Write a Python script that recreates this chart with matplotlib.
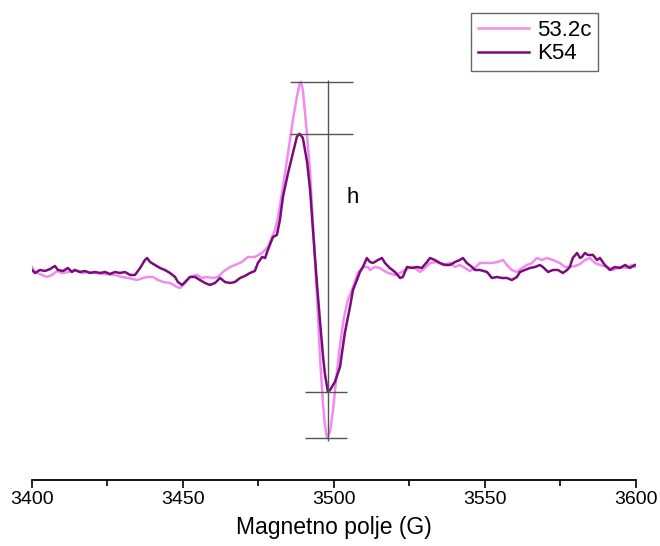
import matplotlib
matplotlib.use('Agg')
import matplotlib.pyplot as plt
from matplotlib.ticker import MultipleLocator

plt.rcParams['font.family'] = ['Liberation Sans', 'DejaVu Sans']

# Magnetno polje (G) i intenzitet signala (proizvoljne jedinice)
field_53 = [3400.0, 3401.0, 3403.3, 3405.0, 3406.6, 3408.3, 3409.9, 3411.9, 3414.2, 3416.6,
            3418.5, 3420.9, 3424.2, 3427.5, 3429.8, 3431.8, 3433.4, 3434.8, 3436.8, 3438.4,
            3440.1, 3441.7, 3443.4, 3445.7, 3448.0, 3449.0, 3450.7, 3452.3, 3454.6, 3456.3,
            3457.9, 3459.9, 3461.6, 3463.2, 3465.6, 3467.2, 3469.5, 3471.5, 3473.8, 3476.2,
            3478.1, 3480.5, 3481.5, 3483.1, 3484.8, 3486.4, 3487.7, 3488.7, 3489.1, 3489.7,
            3490.7, 3492.1, 3493.0, 3494.4, 3495.4, 3496.4, 3497.0, 3497.7, 3498.7, 3499.7,
            3500.7, 3502.0, 3503.3, 3504.6, 3506.3, 3507.9, 3509.6, 3511.3, 3511.9, 3513.6,
            3515.2, 3516.2, 3517.9, 3520.2, 3521.9, 3523.5, 3525.2, 3526.8, 3528.5, 3530.1,
            3531.8, 3534.1, 3536.1, 3538.4, 3540.1, 3541.7, 3543.4, 3545.0, 3546.7, 3548.3,
            3550.0, 3552.3, 3554.3, 3556.0, 3557.3, 3558.9, 3560.6, 3562.3, 3563.9, 3565.6,
            3567.2, 3568.9, 3570.5, 3572.5, 3574.8, 3576.5, 3578.1, 3579.8, 3581.5, 3583.1,
            3584.8, 3586.4, 3588.1, 3590.4, 3592.4, 3594.7, 3597.0, 3598.7, 3599.7]
signal_53 = [3, -2, -5, -7, -5, -1, -3, -2, 0, -3,
             -2, -3, -4, -5, -7, -8, -9, -10, -8, -7,
             -7, -10, -12, -13, -17, -18, -13, -7, -5, -8,
             -7, -8, -7, -2, 3, 5, 8, 13, 13, 17,
             23, 40, 53, 83, 117, 150, 173, 187, 188, 180,
             148, 98, 48, -28, -88, -135, -155, -168, -162, -140,
             -110, -75, -48, -30, -17, -3, 3, 3, 0, 3,
             2, 0, -3, -5, -3, 0, 3, 2, -2, 2,
             7, 8, 5, 7, 3, 5, 2, -1, 2, 7,
             7, 7, 8, 10, 5, 0, -2, 2, 5, 7,
             12, 10, 12, 10, 7, 3, 3, 4, 6, 10,
             12, 7, 5, 3, 0, 3, 2, 5, 3]

field_k54 = [3400.0, 3401.0, 3402.6, 3404.3, 3406.0, 3407.6, 3408.6, 3410.3, 3411.9, 3413.2,
             3414.2, 3415.9, 3417.5, 3419.2, 3420.9, 3422.5, 3424.2, 3425.8, 3427.5, 3429.1,
             3430.8, 3432.5, 3434.1, 3435.8, 3437.4, 3438.1, 3439.1, 3440.7, 3442.4, 3444.0,
             3445.7, 3447.4, 3448.3, 3449.7, 3450.7, 3452.3, 3454.0, 3455.6, 3457.3, 3458.9,
             3460.6, 3462.3, 3463.9, 3465.6, 3467.2, 3468.9, 3470.5, 3472.2, 3473.8, 3474.8,
             3476.2, 3477.2, 3478.1, 3479.8, 3481.1, 3482.1, 3483.1, 3484.8, 3486.4, 3487.7,
             3488.4, 3488.7, 3489.7, 3491.1, 3492.1, 3493.0, 3494.4, 3495.4, 3496.4, 3497.0,
             3498.0, 3498.7, 3499.3, 3500.3, 3502.0, 3503.6, 3505.3, 3506.3, 3507.6, 3508.6,
             3509.6, 3510.9, 3511.9, 3512.9, 3514.6, 3515.9, 3516.9, 3518.5, 3520.2, 3521.9,
             3522.8, 3524.2, 3525.8, 3527.5, 3529.1, 3530.8, 3531.8, 3533.4, 3535.1, 3536.8,
             3538.4, 3540.1, 3541.7, 3542.7, 3544.0, 3545.7, 3546.7, 3548.3, 3550.7, 3552.3,
             3554.0, 3555.6, 3557.3, 3558.9, 3560.6, 3561.6, 3563.2, 3564.9, 3566.6, 3568.2,
             3569.2, 3570.9, 3572.5, 3574.2, 3575.8, 3577.2, 3578.1, 3579.1, 3580.5, 3581.5,
             3582.1, 3583.1, 3584.1, 3585.8, 3587.1, 3588.1, 3589.7, 3591.4, 3593.0, 3594.7,
             3596.4, 3598.0, 3599.7]
signal_k54 = [0, -3, 0, -1, 1, 4, 0, -1, 2, -2,
              0, -2, -1, -3, -2, -3, -2, -4, -2, -3,
              -2, -5, -5, 2, 10, 12, 8, 5, 2, 0,
              -3, -7, -12, -15, -12, -7, -7, -10, -13, -15,
              -13, -8, -12, -13, -12, -8, -6, -3, -1, 7,
              13, 12, 20, 33, 35, 50, 73, 97, 117, 133,
              136, 136, 132, 108, 80, 42, -15, -52, -87, -104,
              -122, -120, -117, -112, -97, -63, -37, -20, -10, -2,
              3, 12, 8, 7, 10, 12, 7, 2, -2, -8,
              -7, 3, 2, 3, 2, 8, 12, 10, 7, 5,
              5, 8, 10, 12, 7, 3, 0, 0, -2, -8,
              -7, -8, -8, -10, -7, -2, 0, 2, 3, 5,
              3, -2, 0, 0, -3, 0, 3, 12, 17, 12,
              13, 17, 15, 15, 10, 12, 5, 0, 3, 2,
              5, 2, 5]

series_names = ['53.2c', 'K54']
series_colors = ['#F28AF2', '#7A0C7A']

fig = plt.figure(figsize=(6.6, 5.46), dpi=100)
ax = fig.add_axes([0.0485, 0.1209, 0.915, 0.8425])

ax.plot(field_53, signal_53, color=series_colors[0], lw=1.8, label=series_names[0])
ax.plot(field_k54, signal_k54, color=series_colors[1], lw=1.8, label=series_names[1])

# oznake visine signala h
gray = '#555555'
ax.hlines([max(signal_53), max(signal_k54)], 3485.4, 3506.3, color=gray, lw=1)
ax.hlines([min(signal_k54), min(signal_53)], 3490.4, 3504.3, color=gray, lw=1)
ax.vlines(3498.0, min(signal_53) - 3, max(signal_53) + 2, color=gray, lw=1)
ax.text(3506.3, 72, 'h', fontsize=16, ha='center', va='center')

ax.set_xlim(3400, 3600)
ax.set_ylim(-210, 250)
ax.xaxis.set_major_locator(MultipleLocator(50))
ax.xaxis.set_minor_locator(MultipleLocator(25))
ax.tick_params(axis='x', which='major', direction='out', length=6, width=1.2, labelsize=14, pad=2)
ax.tick_params(axis='x', which='minor', direction='out', length=4, width=1.2)
ax.set_yticks([])
for s in ['left', 'right', 'top']:
    ax.spines[s].set_visible(False)
ax.spines['bottom'].set_linewidth(1.3)
ax.set_xlabel('Magnetno polje (G)', fontsize=16.5, labelpad=6)

leg = fig.legend(loc='upper right', bbox_to_anchor=(0.906, 0.976), fontsize=16,
                 handlelength=2.3, handletextpad=0.35, borderpad=0.3, labelspacing=0.12,
                 borderaxespad=0, fancybox=False, framealpha=1, edgecolor='#666666')
leg.get_frame().set_linewidth(1)

plt.savefig('out.png', dpi=100)
plt.close()
